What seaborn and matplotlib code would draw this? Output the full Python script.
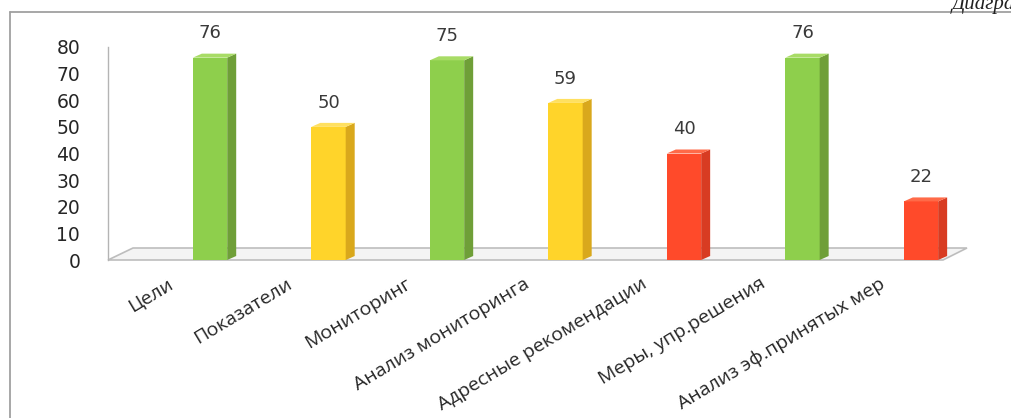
import matplotlib
matplotlib.use("Agg")
import matplotlib.pyplot as plt
import matplotlib.transforms as mtransforms
from matplotlib.patches import Polygon
from matplotlib.lines import Line2D
import seaborn as sns

# data
categories = ["Цели", "Показатели", "Мониторинг", "Анализ мониторинга",
              "Адресные рекомендации", "Меры, упр.решения", "Анализ эф.принятых мер"]
values = [76, 50, 75, 59, 40, 76, 22]
levels = ["green", "yellow", "green", "yellow", "red", "green", "red"]
yticks = [0, 10, 20, 30, 40, 50, 60, 70, 80]

front = {"green": "#8ecf4c", "yellow": "#ffd42a", "red": "#ff4a2a"}
side = {"green": "#6f9f38", "yellow": "#d9a81c", "red": "#d83c22"}
top = {"green": "#a8dc66", "yellow": "#ffe060", "red": "#ff6a48"}

sns.set_style("white")
plt.rcParams["font.family"] = ["DejaVu Sans"]

W, H = 1011, 418
fig = plt.figure(figsize=(W / 100, H / 100), dpi=100)
ax = fig.add_axes([108 / W, 158 / H, 835 / W, 213 / H])

sns.barplot(x=categories, y=values, hue=levels, palette=front, dodge=False,
            width=0.29, saturation=1, legend=False, linewidth=0, ax=ax, zorder=3)

ax.set_xlim(-0.861, 6.186)
ax.set_ylim(0, 80)

# pseudo 3d depth, in data units (9 px right, 4 px up)
xpp = (6.186 + 0.861) / 835
ypp = 80 / 213
dx, dy = 9 * xpp, 4 * ypp

# floor
xl, xr = ax.get_xlim()
floor = Polygon([(xl, 0), (xr, 0), (xr + 24 * xpp, 12 * ypp), (xl + 25 * xpp, 12 * ypp)],
                closed=True, facecolor="#f4f4f4", edgecolor="#bdbdbd", lw=1.2,
                zorder=1, clip_on=False)
ax.add_patch(floor)

for p in ax.patches:
    if p is floor:
        continue
    x0, w, h = p.get_x(), p.get_width(), p.get_height()
    if h <= 0:
        continue
    i = int(round(x0 + w / 2))
    lv = levels[i]
    ax.add_patch(Polygon([(x0 + w, 0), (x0 + w + dx, dy), (x0 + w + dx, h + dy), (x0 + w, h)],
                         closed=True, facecolor=side[lv], lw=0, zorder=3, clip_on=False))
    ax.add_patch(Polygon([(x0, h), (x0 + dx, h + dy), (x0 + w + dx, h + dy), (x0 + w, h)],
                         closed=True, facecolor=top[lv], lw=0, zorder=3, clip_on=False))

for c in ax.containers:
    ax.bar_label(c, padding=11, fontsize=13, color="#3a3a3a")

sns.despine(ax=ax, top=True, right=True, bottom=True, left=False)
ax.spines["left"].set_color("#b4b4b4")
ax.spines["left"].set_linewidth(1.0)

ax.set_yticks(yticks)
ax.set_yticklabels([str(v) for v in yticks])
ax.tick_params(axis="y", length=0, pad=20, labelsize=13.5, labelcolor="#262626")

ax.set_xticks(range(len(categories)))
ax.set_xticklabels(categories, rotation=31, ha="right", va="center",
                   rotation_mode="anchor", fontsize=14, family="Open Sans",
                   color="#262626")
ax.tick_params(axis="x", length=0, pad=16)
shift = mtransforms.ScaledTranslation(-38 / 100, 0, fig.dpi_scale_trans)
for lbl in ax.get_xticklabels():
    lbl.set_transform(lbl.get_transform() + shift)

ax.set_xlabel("")
ax.set_ylabel("")
ax.grid(False)

# frame of the scanned page
fig.add_artist(Line2D([10 / W, 10 / W], [0, 1 - 12 / H], transform=fig.transFigure,
                      color="#a0a0a0", lw=1.3))
fig.add_artist(Line2D([10 / W, 1], [1 - 12 / H, 1 - 12 / H], transform=fig.transFigure,
                      color="#a0a0a0", lw=1.3))
fig.text(952 / W, 1 - 9 / H, "Диаграмма", fontstyle="italic", family="Liberation Serif",
         fontsize=15, va="baseline", color="#202020")

fig.savefig("out.png", dpi=100)
